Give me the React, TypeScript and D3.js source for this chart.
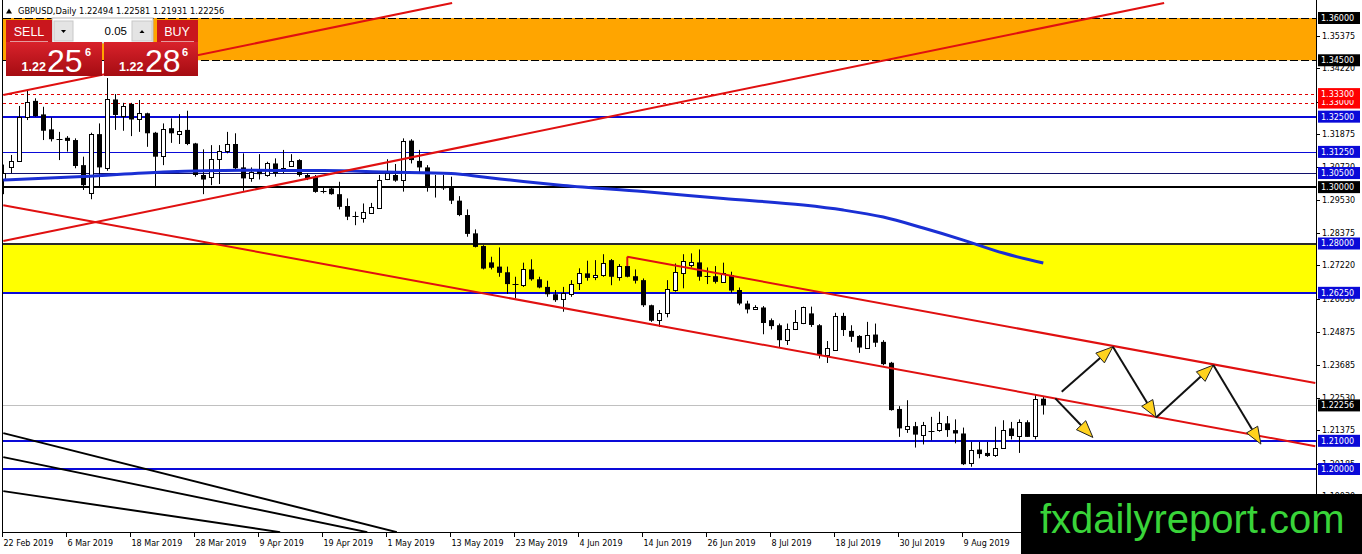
import React from 'react';
import * as d3 from 'd3';

// ---------- DATA ----------
const opens = [1.3030,1.3070,1.3093,1.3250,1.3306,1.3258,1.3205,1.3172,1.3175,1.3167,1.3078,1.2978,1.3188,1.3067,1.3311,1.3252,1.3295,1.3240,1.3262,1.3193,1.3110,1.3209,1.3191,1.3203,1.3155,1.3043,1.3035,1.3099,1.3129,1.3153,1.3070,1.3035,1.3061,1.3043,1.3084,1.3058,1.3075,1.3096,1.3043,1.3037,1.2987,1.2995,1.2975,1.2933,1.2897,1.2893,1.2909,1.2928,1.3027,1.3043,1.3025,1.3165,1.3093,1.3070,1.3004,1.3004,1.3001,1.2952,1.2901,1.2836,1.2791,1.2733,1.2718,1.2698,1.2656,1.2652,1.2708,1.2673,1.2646,1.2620,1.2602,1.2623,1.2658,1.2694,1.2680,1.2688,1.2741,1.2680,1.2720,1.2684,1.2670,1.2581,1.2526,1.2552,1.2635,1.2696,1.2721,1.2733,1.2686,1.2684,1.2664,1.2688,1.2635,1.2587,1.2566,1.2573,1.2528,1.2510,1.2457,1.2495,1.2516,1.2552,1.2510,1.2404,1.2422,1.2543,1.2490,1.2472,1.2431,1.2477,1.2451,1.2377,1.2213,1.2140,1.2152,1.2120,1.2134,1.2138,1.2162,1.2138,1.2126,1.2022,1.2069,1.2057,1.2047,1.2077,1.2144,1.2117,1.2166,1.2117,1.22494];
const highs = [1.3080,1.3114,1.3288,1.3344,1.3315,1.3285,1.3247,1.3196,1.3181,1.3173,1.3108,1.3193,1.3226,1.3387,1.3330,1.3299,1.3299,1.3309,1.3264,1.3196,1.3226,1.3244,1.3259,1.3271,1.3157,1.3134,1.3149,1.3149,1.3196,1.3191,1.3120,1.3070,1.3117,1.3090,1.3102,1.3132,1.3117,1.3099,1.3049,1.3043,1.3001,1.2997,1.3019,1.2960,1.2913,1.2942,1.2944,1.3043,1.3099,1.3082,1.3173,1.3170,1.3132,1.3078,1.3043,1.3043,1.3037,1.2968,1.2921,1.2850,1.2794,1.2753,1.2786,1.2718,1.2682,1.2732,1.2744,1.2682,1.2668,1.2635,1.2646,1.2670,1.2712,1.2739,1.2741,1.2762,1.2745,1.2727,1.2753,1.2708,1.2676,1.2583,1.2564,1.2670,1.2729,1.2762,1.2765,1.2779,1.2715,1.2720,1.2732,1.2700,1.2644,1.2597,1.2581,1.2578,1.2534,1.2516,1.2516,1.2564,1.2576,1.2576,1.2514,1.2454,1.2554,1.2554,1.2510,1.2475,1.2522,1.2516,1.2457,1.2380,1.2223,1.2244,1.2167,1.2167,1.2185,1.2203,1.2188,1.2176,1.2147,1.2096,1.2096,1.2096,1.2150,1.2173,1.2167,1.2176,1.2173,1.2266,1.22581];
const lows = [1.2975,1.3049,1.3090,1.3238,1.3250,1.3167,1.3162,1.3096,1.3126,1.3067,1.2990,1.2957,1.3004,1.3058,1.3203,1.3200,1.3181,1.3196,1.3143,1.3004,1.3078,1.3157,1.3153,1.3149,1.3037,1.2975,1.3007,1.3011,1.3120,1.3063,1.2987,1.3019,1.3027,1.3037,1.3037,1.3049,1.3072,1.3037,1.3025,1.2980,1.2978,1.2973,1.2921,1.2883,1.2865,1.2874,1.2907,1.2924,1.3025,1.3019,1.2984,1.3084,1.3049,1.2984,1.2963,1.2990,1.2940,1.2897,1.2824,1.2786,1.2708,1.2708,1.2682,1.2621,1.2605,1.2646,1.2668,1.2641,1.2611,1.2593,1.2558,1.2611,1.2635,1.2668,1.2670,1.2682,1.2652,1.2668,1.2680,1.2658,1.2575,1.2522,1.2504,1.2538,1.2629,1.2641,1.2715,1.2668,1.2656,1.2658,1.2660,1.2625,1.2581,1.2552,1.2564,1.2478,1.2495,1.2433,1.2440,1.2493,1.2514,1.2504,1.2392,1.2376,1.2419,1.2472,1.2451,1.2412,1.2428,1.2433,1.2368,1.2207,1.2114,1.2128,1.2076,1.2087,1.2102,1.2132,1.2114,1.2091,1.2014,1.2008,1.2038,1.2043,1.2043,1.2073,1.2105,1.2057,1.2114,1.2105,1.21931];
const closes = [1.3050,1.3093,1.3248,1.3303,1.3252,1.3200,1.3170,1.3170,1.3164,1.3075,1.3007,1.3187,1.3070,1.3311,1.3256,1.3288,1.3240,1.3262,1.3191,1.3108,1.3205,1.3191,1.3200,1.3153,1.3043,1.3027,1.3099,1.3129,1.3153,1.3067,1.3031,1.3055,1.3046,1.3084,1.3049,1.3067,1.3094,1.3043,1.3031,1.2983,1.2985,1.2975,1.2930,1.2895,1.2895,1.2913,1.2930,1.3027,1.3049,1.3023,1.3165,1.3096,1.3070,1.2999,1.3002,1.2996,1.2952,1.2901,1.2834,1.2788,1.2711,1.2714,1.2696,1.2656,1.2653,1.2708,1.2673,1.2644,1.2620,1.2599,1.2625,1.2658,1.2694,1.2678,1.2688,1.2732,1.2682,1.2720,1.2682,1.2668,1.2581,1.2526,1.2552,1.2637,1.2700,1.2739,1.2733,1.2682,1.2684,1.2664,1.2696,1.2633,1.2587,1.2566,1.2573,1.2518,1.2507,1.2457,1.2495,1.2520,1.2573,1.2511,1.2404,1.2428,1.2543,1.2493,1.2469,1.2431,1.2477,1.2448,1.2372,1.2209,1.2144,1.2152,1.2122,1.2156,1.2136,1.2162,1.2138,1.2126,1.2017,1.2069,1.2053,1.2046,1.2073,1.2140,1.2117,1.2166,1.2114,1.2247,1.22256];

const dateLabels = ["22 Feb 2019","6 Mar 2019","18 Mar 2019","28 Mar 2019","9 Apr 2019","19 Apr 2019","1 May 2019","13 May 2019","23 May 2019","4 Jun 2019","14 Jun 2019","26 Jun 2019","8 Jul 2019","18 Jul 2019","30 Jul 2019","9 Aug 2019"];
const dateLabelBars = [0,8,16,24,32,40,48,56,64,72,80,88,96,104,112,120];

const axisTickPrices = [1.35375,1.34220,1.33030,1.31875,1.30720,1.29530,1.28375,1.27220,1.26030,1.24875,1.23685,1.22530,1.21375,1.20185,1.19030];

const maBars = [0,10,20,30,40,48,56,60,65,70,80,90,100,105,110,115,120,125,130];
const maValues = [1.30251,1.30375,1.30535,1.30595,1.30588,1.30535,1.30482,1.30358,1.30198,1.30056,1.29843,1.29595,1.29364,1.29186,1.28938,1.28548,1.28122,1.27661,1.27306];

const levelPrices = [1.36,1.345,1.333,1.33,1.325,1.3125,1.305,1.30,1.28,1.2625,1.22256,1.21,1.20];
const zoneLow = [1.345, 1.2625];
const zoneHigh = [1.36, 1.28];

// trend lines: [bar1, price1, bar2, price2]
const redLines = [
  [0, 1.2936, 164, 1.2081],
  [78, 1.2753, 164, 1.23048],
  [78, 1.2753, 78, 1.2720],
  [0, 1.28087, 145.1, 1.36532],
  [0, 1.33268, 56.1, 1.36532],
];
const blackLines = [
  [0, 1.21273, 49.2, 1.1776],
  [0, 1.20422, 45.5, 1.1776],
  [0, 1.19215, 34.6, 1.1776],
];
const arrows = [
  [132.3, 1.22739, 138.7, 1.24336],
  [138.7, 1.24336, 144.1, 1.21830],
  [144.1, 1.21830, 151.25, 1.23686],
  [151.25, 1.23686, 157.2, 1.20883],
  [131.5, 1.22504, 136.2, 1.21120],
];

const titleText = "GBPUSD,Daily 1.22494 1.22581 1.21931 1.22256";

// ---------- STYLE ----------
const W = 1362, H = 554;
const PLOT_L = 3, PLOT_R = 1316, PLOT_B = 532;
const BLUE = '#0a0ad8';
const levelStyles = [
  { color: '#000', w: 1, dash: '8,3', bg: '#000' },
  { color: '#000', w: 1, dash: '8,3', bg: '#000' },
  { color: '#e00000', w: 1, dash: '3,3', bg: '#ff0000' },
  { color: '#e00000', w: 1, dash: '3,3', bg: '#ff0000' },
  { color: BLUE, w: 2, dash: '', bg: BLUE },
  { color: BLUE, w: 1, dash: '', bg: BLUE },
  { color: '#10106a', w: 1, dash: '', bg: BLUE },
  { color: '#000', w: 2, dash: '', bg: '#000' },
  { color: '#2a2a2a', w: 2, dash: '', bg: BLUE },
  { color: BLUE, w: 2, dash: '', bg: BLUE },
  { color: '#c0c0c0', w: 1, dash: '', bg: '#000' },
  { color: BLUE, w: 2, dash: '', bg: BLUE },
  { color: BLUE, w: 2, dash: '', bg: BLUE },
];
const zoneColors = ['#ffa500', '#ffff00'];
const AX_FONT = 'DejaVu Sans, Verdana, sans-serif';

export default function App() {
  const x = d3.scaleLinear().domain([0, 130]).range([3.3, 1043.3]);
  const y = d3.scaleLinear().domain([1.20, 1.36]).range([469, 18]);
  const fmt = d3.format('.5f');

  const maLine = d3.line<number>()
    .x((_, i) => x(maBars[i]))
    .y((d) => y(d))
    .curve(d3.curveMonotoneX)(maValues) as string;

  const arrowHead = (x1: number, y1: number, x2: number, y2: number) => {
    const a = Math.atan2(y2 - y1, x2 - x1);
    const L = 17, hw = 6.5;
    const bx = x2 - L * Math.cos(a), by = y2 - L * Math.sin(a);
    const px = -Math.sin(a) * hw, py = Math.cos(a) * hw;
    return { pts: `${x2},${y2} ${bx + px},${by + py} ${bx - px},${by - py}`, bx, by };
  };

  const levelOrder = levelPrices.map((_, i) => i).sort((a, b) => levelPrices[a] - levelPrices[b]);

  return (
    <svg width={W} height={H} style={{ position: 'absolute', left: 0, top: 0, display: 'block', background: '#fff' }}
      xmlns="http://www.w3.org/2000/svg">
      <defs>
        <clipPath id="plot"><rect x={PLOT_L} y={0} width={PLOT_R - PLOT_L} height={PLOT_B} /></clipPath>
        <linearGradient id="redg" x1="0" y1="0" x2="0" y2="1">
          <stop offset="0" stopColor="#d9222b" />
          <stop offset="1" stopColor="#a50c12" />
        </linearGradient>
      </defs>
      <rect x={0} y={0} width={W} height={H} fill="#fff" />
      <g clipPath="url(#plot)">
        {zoneLow.map((lo, i) => (
          <rect key={'z' + i} x={PLOT_L} y={y(zoneHigh[i])} width={PLOT_R - PLOT_L}
            height={y(lo) - y(zoneHigh[i])} fill={zoneColors[i]} />
        ))}
        {levelPrices.map((p, i) => {
          const s = levelStyles[i];
          const yy = Math.round(y(p)) + (s.w === 1 ? 0.5 : 0);
          return <line key={'l' + i} x1={PLOT_L} x2={PLOT_R} y1={yy} y2={yy} stroke={s.color}
            strokeWidth={s.w} strokeDasharray={s.dash || undefined} />;
        })}
        {blackLines.map((l, i) => (
          <line key={'b' + i} x1={x(l[0])} y1={y(l[1])} x2={x(l[2])} y2={y(l[3])} stroke="#000" strokeWidth={2} />
        ))}
        {opens.map((o, i) => {
          const c = closes[i];
          const cx = Math.round(x(i)) + 0.5;
          const yo = y(o), yc = y(c);
          const top = Math.min(yo, yc), bot = Math.max(yo, yc);
          const bull = c >= o;
          return (
            <g key={'c' + i}>
              <line x1={cx} x2={cx} y1={y(highs[i])} y2={y(lows[i])} stroke="#000" strokeWidth={1} />
              {bot - top < 1.2 ? (
                <line x1={cx - 3} x2={cx + 3} y1={Math.round(top) + 0.5} y2={Math.round(top) + 0.5} stroke="#000" />
              ) : bull ? (
                <rect x={cx - 2} y={Math.round(top) + 0.5} width={4} height={Math.round(bot - top)} fill="#fff" stroke="#000" />
              ) : (
                <rect x={cx - 2.5} y={top} width={5} height={bot - top} fill="#000" />
              )}
            </g>
          );
        })}
        <path d={maLine} fill="none" stroke="#1a2fd4" strokeWidth={3} />
        {redLines.map((l, i) => (
          <line key={'r' + i} x1={x(l[0])} y1={y(l[1])} x2={x(l[2])} y2={y(l[3])} stroke="#e01010" strokeWidth={2} />
        ))}
        {arrows.map((a, i) => {
          const x1 = x(a[0]), y1 = y(a[1]), x2 = x(a[2]), y2 = y(a[3]);
          const h = arrowHead(x1, y1, x2, y2);
          return (
            <g key={'a' + i}>
              <line x1={x1} y1={y1} x2={h.bx} y2={h.by} stroke="#111" strokeWidth={2} />
              <polygon points={h.pts} fill="#ffd21e" stroke="#222" strokeWidth={1} strokeLinejoin="miter" />
            </g>
          );
        })}
      </g>
      {/* axes */}
      <line x1={PLOT_L - 0.5} x2={PLOT_L - 0.5} y1={0} y2={PLOT_B} stroke="#000" />
      <line x1={PLOT_R + 0.5} x2={PLOT_R + 0.5} y1={0} y2={PLOT_B + 1} stroke="#000" />
      <line x1={PLOT_L - 1} x2={PLOT_R + 1} y1={PLOT_B + 0.5} y2={PLOT_B + 0.5} stroke="#000" />
      {dateLabelBars.map((b, i) => {
        const xx = Math.round(x(b)) - 0.5;
        return (
          <g key={'d' + i}>
            <line x1={xx} x2={xx} y1={PLOT_B} y2={PLOT_B + 5} stroke="#000" />
            <text x={xx + 1} y={546} fontFamily={AX_FONT} fontSize={8} fill="#000">{dateLabels[i]}</text>
          </g>
        );
      })}
      {axisTickPrices.map((p, i) => {
        const yy = Math.round(y(p)) + 0.5;
        return (
          <g key={'t' + i}>
            <line x1={PLOT_R} x2={PLOT_R + 4} y1={yy} y2={yy} stroke="#000" />
            <text x={1322} y={yy} dy="0.35em" fontFamily={AX_FONT} fontSize={8} fill="#000">{fmt(p)}</text>
          </g>
        );
      })}
      {levelOrder.map((i) => {
        const p = levelPrices[i];
        const yy = y(p);
        return (
          <g key={'lb' + i}>
            <rect x={1318} y={yy - 6} width={42} height={12} fill={levelStyles[i].bg} />
            <text x={1321} y={yy} dy="0.36em" fontFamily={AX_FONT} fontSize={8} fill="#fff">{fmt(p)}</text>
          </g>
        );
      })}
      {/* title */}
      <path d="M6,13.5 L12,13.5 L9,8.5 Z" fill="#000" />
      <text x={18} y={14} fontFamily={AX_FONT} fontSize={8.3} fill="#000">{titleText}</text>
      {/* trade panel */}
      <g fontFamily="Liberation Sans, Arial, sans-serif">
        <rect x={52} y={18} width={101} height={25} fill="#fff" stroke="#b8b8b8" />
        <rect x={6} y={20} width={46} height={22} fill="#c9161d" />
        <line x1={10} x2={48} y1={41.5} y2={41.5} stroke="#e49a9d" />
        <text x={29} y={35.5} textAnchor="middle" fontSize={12.5} fill="#fff">SELL</text>
        <rect x={54} y={21} width={19} height={20} fill="#e4e4e4" stroke="#c8c8c8" />
        <path d="M61,30 L66,30 L63.5,33 Z" fill="#000" />
        <text x={127} y={35} textAnchor="end" fontSize={11.5} fill="#000">0.05</text>
        <rect x={132} y={21} width={20} height={20} fill="#e4e4e4" stroke="#c8c8c8" />
        <path d="M139.5,33 L144.5,33 L142,30 Z" fill="#000" />
        <rect x={157} y={20} width={41} height={22} fill="#c9161d" />
        <line x1={161} x2={194} y1={41.5} y2={41.5} stroke="#e49a9d" />
        <text x={177} y={35.5} textAnchor="middle" fontSize={12.5} fill="#fff">BUY</text>
        <rect x={6} y={42} width={96} height={34} fill="url(#redg)" />
        <rect x={104} y={42} width={94} height={34} fill="url(#redg)" />
        <text x={21.5} y={71} fontSize={12.5} fontWeight="bold" fill="#fff">1.22</text>
        <text x={47} y={71.5} fontSize={32} fill="#fff">25</text>
        <text x={85} y={55.5} fontSize={11} fontWeight="bold" fill="#fff">6</text>
        <text x={119} y={71} fontSize={12.5} fontWeight="bold" fill="#fff">1.22</text>
        <text x={145} y={71.5} fontSize={32} fill="#fff">28</text>
        <text x={182} y={55.5} fontSize={11} fontWeight="bold" fill="#fff">6</text>
      </g>
      {/* watermark */}
      <rect x={1021} y={494} width={341} height={60} fill="#000" />
      <text x={1040} y={533} fontFamily="Liberation Sans, Arial, sans-serif" fontSize={40} fill="#39d439">fxdailyreport.com</text>
    </svg>
  );
}
